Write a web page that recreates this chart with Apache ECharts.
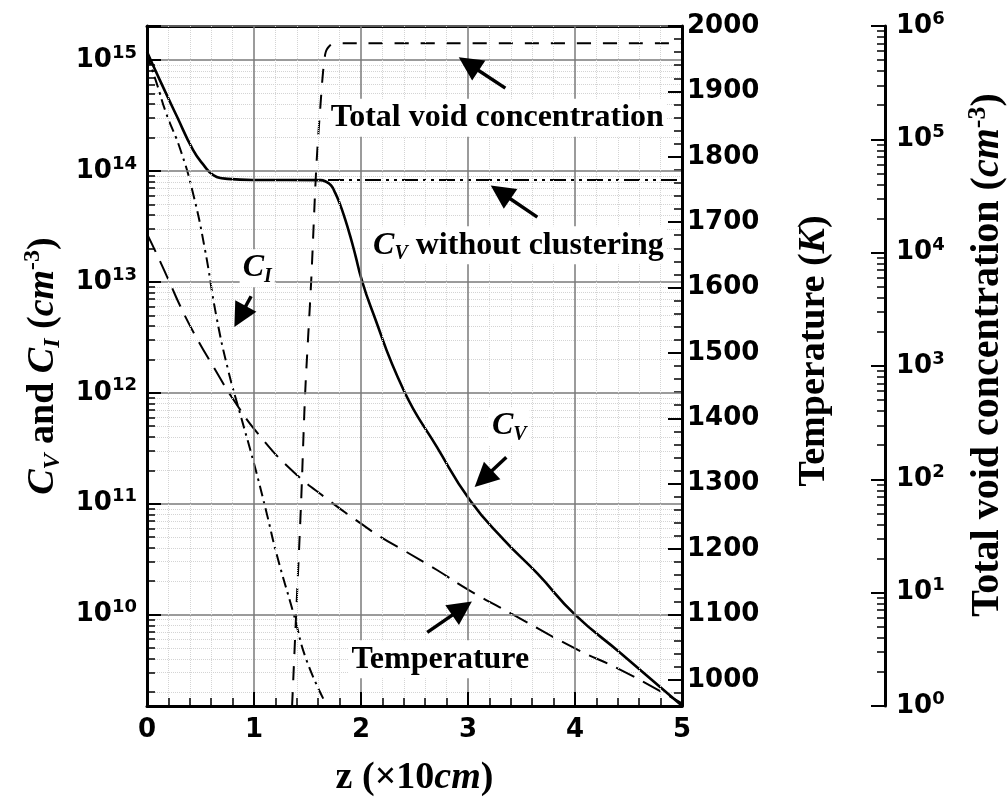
<!DOCTYPE html>
<html>
<head>
<meta charset="utf-8">
<script src="https://cdn.jsdelivr.net/npm/echarts@6.0.0/dist/echarts.min.js"></script>
<style>
html,body{margin:0;padding:0;background:#fff;}
#c{width:1008px;height:800px;}
</style>
</head>
<body>
<div id="c"></div>
<script>
// ---------------- data ----------------
// z in units of 10 cm
const cvData = [
  [0, 1.19e15], [0.12, 6.6e14], [0.28, 3.1e14], [0.43, 1.55e14], [0.53, 1.13e14],
  [0.62, 9.2e13], [0.75, 8.5e13], [1.0, 8.3e13], [1.62, 8.28e13], [1.67, 8.04e13],
  [1.72, 7.41e13], [1.76, 6.31e13], [1.80, 5.13e13], [1.85, 3.72e13], [1.90, 2.57e13],
  [1.95, 1.70e13], [2.0, 1.10e13], [2.09, 6.0e12], [2.40, 1.05e12], [2.71, 3.24e11],
  [3.02, 1.07e11], [3.34, 4.68e10], [3.65, 2.34e10], [4.0, 1.0e10], [4.43, 4.47e9], [5.0, 1.51e9]
];
const cvNoClusterData = [[1.0, 8.3e13], [5.0, 8.3e13]];
const ciData = [
  [0, 1.12e15], [0.09, 6.2e14], [0.18, 3.3e14], [0.31, 1.58e14], [0.43, 6.3e13],
  [0.54, 2.0e13], [0.65, 4.8e12], [0.76, 1.58e12], [0.87, 6.5e11], [1.0, 2.3e11],
  [1.12, 8.1e10], [1.21, 3.55e10], [1.37, 1.02e10], [1.49, 3.9e9], [1.665, 1.62e9]
];
const tempData = [
  [0, 1682], [0.1, 1648], [0.2, 1612], [0.33, 1565], [0.45, 1527], [0.62, 1479],
  [0.81, 1428], [1.06, 1372], [1.37, 1318], [1.68, 1277], [2.0, 1239], [2.18, 1219],
  [2.4, 1198], [2.71, 1168], [3.0, 1138], [3.43, 1099], [4.0, 1048], [4.43, 1015], [5.0, 964]
];
const voidData = [
  [1.356, 1], [1.394, 6.5], [1.44, 62], [1.478, 575], [1.534, 5500], [1.581, 53700],
  [1.618, 182000], [1.665, 562000], [1.712, 676000], [1.777, 703000], [5.0, 703000]
];
// axis ranges
const zRange = [0, 5];
const concRange = [1.5e9, 2.03e15];
const tempRange = [960, 2000];
const voidRange = [1, 1e6];
const minorFactors = [2, 3, 4, 5, 6, 7, 8, 9];

// annotation texts (position: z, log10 of C)
const annotations = [
  {text: '{b|Total void concentration}', z: 3.274, e: 14.48},
  {text: '{i|C}{sub|V}{b| without clustering}', z: 3.471, e: 13.33},
  {text: '{i|C}{sub|I}', z: 1.03, e: 13.124},
  {text: '{i|C}{sub|V}', z: 3.386, e: 11.699},
  {text: '{b|Temperature}', z: 2.741, e: 9.597}
];
const arrows = [
  {from: [3.349, 14.747], to: [3.007, 14.965]},
  {from: [3.648, 13.584], to: [3.305, 13.809]},
  {from: [0.973, 12.871], to: [0.870, 12.688]},
  {from: [3.358, 11.419], to: [3.144, 11.225]},
  {from: [2.619, 9.840], to: [2.944, 10.056]}
];

// ---------------- styles ----------------
const SERIF = '"Liberation Serif", "Times New Roman", serif';
const SANS = '"DejaVu Sans", sans-serif';
const BLACK = '#000';

const tickRich = {
  b: {fontFamily: SANS, fontWeight: 'bold', fontSize: 26, lineHeight: 32, color: BLACK},
  s: {fontFamily: SANS, fontWeight: 'bold', fontSize: 18, lineHeight: 18, verticalAlign: 'top', color: BLACK}
};
function mkRich(big, small, lh) {
  return {
    b: {fontFamily: SERIF, fontWeight: 'bold', fontSize: big, lineHeight: lh, color: BLACK},
    i: {fontFamily: SERIF, fontWeight: 'bold', fontStyle: 'italic', fontSize: big, lineHeight: lh, color: BLACK},
    sub: {fontFamily: SERIF, fontWeight: 'bold', fontStyle: 'italic', fontSize: small, lineHeight: small, verticalAlign: 'bottom', color: BLACK},
    sup: {fontFamily: SERIF, fontWeight: 'bold', fontSize: small, lineHeight: small, verticalAlign: 'top', color: BLACK}
  };
}
const nameRich = mkRich(38, 24, 44);
const voidNameRich = mkRich(40, 26, 46);
const annRich = mkRich(32, 20, 38);

function powLabel(v) {
  const l = Math.log10(v), e = Math.round(l);
  if (Math.abs(l - e) > 1e-6) return '';
  return '{b|10}{s|' + e + '}';
}
const majorTick = {show: true, inside: true, length: 14, lineStyle: {color: BLACK, width: 2}};
const minorTickStyle = {show: true, inside: true, length: 8, lineStyle: {color: BLACK, width: 1.5}};
const frameLine = {show: true, onZero: false, lineStyle: {color: BLACK, width: 3}};
const majorGrid = {show: true, lineStyle: {color: '#7a7a7a', width: 1.5}};
const minorGrid = {show: true, lineStyle: {color: '#d4d4d4', width: 1, type: 'dotted'}};
const tickFont = {fontFamily: SANS, fontWeight: 'bold', fontSize: 26, color: BLACK};

// ---------------- axes ----------------
const yAxes = [
  { // 0: C_V and C_I
    type: 'log', min: concRange[0], max: concRange[1], position: 'left',
    name: '{i|C}{sub|V}{b| and }{i|C}{sub|I}{b| (}{i|cm}{sup|-3}{b|)}',
    nameLocation: 'middle', nameRotate: 90, nameGap: 66,
    nameTextStyle: {rich: nameRich},
    axisLine: frameLine, axisTick: majorTick,
    axisLabel: {formatter: powLabel, rich: tickRich, margin: 10},
    splitLine: majorGrid, z: 5
  },
  { // 1: Temperature
    type: 'value', min: tempRange[0], max: tempRange[1], minInterval: 100, maxInterval: 100, splitNumber: 10,
    position: 'right',
    name: '{b|Temperature (}{i|K}{b|)}',
    nameLocation: 'middle', nameRotate: 90, nameGap: 110,
    nameTextStyle: {rich: nameRich, padding: [0, 0, 0, 30]},
    axisLine: frameLine, axisTick: majorTick,
    axisLabel: Object.assign({margin: 5,
      formatter: v => (Math.abs(v % 100) < 1e-6 ? String(Math.round(v)) : '')}, tickFont),
    splitLine: {show: false}, z: 5
  },
  { // 2: Total void concentration
    type: 'log', min: voidRange[0], max: voidRange[1], position: 'right', offset: 203,
    name: '{b|Total void concentration (}{i|cm}{sup|-3}{b|)}',
    nameLocation: 'middle', nameRotate: 90, nameGap: 80,
    nameTextStyle: {rich: voidNameRich, padding: [0, 0, 0, 22]},
    axisLine: frameLine, axisTick: majorTick,
    axisLabel: {formatter: powLabel, rich: tickRich, margin: 11},
    splitLine: {show: false}, z: 5
  },
  { // 3: temperature minor ticks
    type: 'value', min: tempRange[0], max: tempRange[1], interval: 20, position: 'right',
    axisLine: {show: false, onZero: false}, axisTick: minorTickStyle, axisLabel: {show: false}, splitLine: {show: false}
  }
];
// logarithmic minor ticks (2..9 x 10^n) for the two log axes
minorFactors.forEach(k => yAxes.push({
  type: 'log', min: concRange[0] / k, max: concRange[1] / k, position: 'left',
  axisLine: {show: false, onZero: false}, axisTick: minorTickStyle, axisLabel: {show: false}, splitLine: minorGrid
}));
minorFactors.forEach(k => yAxes.push({
  type: 'log', min: voidRange[0] / k, max: voidRange[1] / k, position: 'right', offset: 203,
  axisLine: {show: false, onZero: false}, axisTick: minorTickStyle, axisLabel: {show: false}, splitLine: {show: false}
}));

const xAxes = [
  {
    type: 'value', min: zRange[0], max: zRange[1], interval: 1, position: 'bottom',
    name: '{b|z (×10}{i|cm}{b|)}', nameLocation: 'middle', nameGap: 50,
    nameTextStyle: {rich: nameRich},
    axisLine: frameLine, axisTick: majorTick,
    minorTick: {show: true, splitNumber: 5, length: 8, lineStyle: {color: BLACK, width: 1.5}},
    axisLabel: Object.assign({margin: 11}, tickFont),
    splitLine: majorGrid, minorSplitLine: minorGrid, z: 5
  },
  {
    type: 'value', min: zRange[0], max: zRange[1], position: 'top',
    axisLine: frameLine, axisTick: {show: false}, axisLabel: {show: false}, splitLine: {show: false}
  }
];

// ---------------- series ----------------
const lineBase = {type: 'line', showSymbol: false, symbol: 'none', smooth: 0.5, animation: false};
const series = [
  Object.assign({}, lineBase, {name: 'Temperature', yAxisIndex: 1, data: tempData,
    lineStyle: {color: BLACK, width: 2, type: [20, 10]}, z: 2}),
  Object.assign({}, lineBase, {name: 'Total void concentration', yAxisIndex: 2, data: voidData, smooth: 0.3,
    lineStyle: {color: BLACK, width: 2, type: [14, 12]}, z: 2}),
  Object.assign({}, lineBase, {name: 'C_I', yAxisIndex: 0, data: ciData,
    lineStyle: {color: BLACK, width: 2, type: [11, 5, 2.5, 5]}, z: 2}),
  Object.assign({}, lineBase, {name: 'C_V without clustering', yAxisIndex: 0, data: cvNoClusterData, smooth: false,
    lineStyle: {color: BLACK, width: 2, type: [16, 5, 3, 5, 3, 5]}, z: 2}),
  Object.assign({}, lineBase, {name: 'C_V', yAxisIndex: 0, data: cvData,
    lineStyle: {color: BLACK, width: 2.6, type: 'solid'}, z: 3,
    markLine: {
      silent: true, animation: false,
      symbol: ['none', 'triangle'], symbolSize: 24,
      lineStyle: {color: BLACK, width: 3.5, type: 'solid'},
      label: {show: false},
      emphasis: {disabled: true},
      data: arrows.map(a => [
        {coord: [a.from[0], Math.pow(10, a.from[1])]},
        {coord: [a.to[0], Math.pow(10, a.to[1])]}
      ])
    },
    markPoint: {
      silent: true, animation: false,
      symbol: 'circle', symbolSize: 1,
      itemStyle: {color: 'rgba(0,0,0,0)'},
      data: annotations.map(a => ({
        coord: [a.z, Math.pow(10, a.e)],
        label: {show: true, position: 'inside', formatter: a.text, rich: annRich,
          color: BLACK, backgroundColor: '#fff', padding: [0, 3]}
      }))
    }
  })
];

const chart = echarts.init(document.getElementById('c'), null, {renderer: 'canvas'});
chart.setOption({
  animation: false,
  backgroundColor: '#fff',
  grid: {left: 147, right: 326, top: 26, bottom: 94, containLabel: false, outerBoundsMode: 'none'},
  xAxis: xAxes,
  yAxis: yAxes,
  series: series
});
</script>
</body>
</html>
